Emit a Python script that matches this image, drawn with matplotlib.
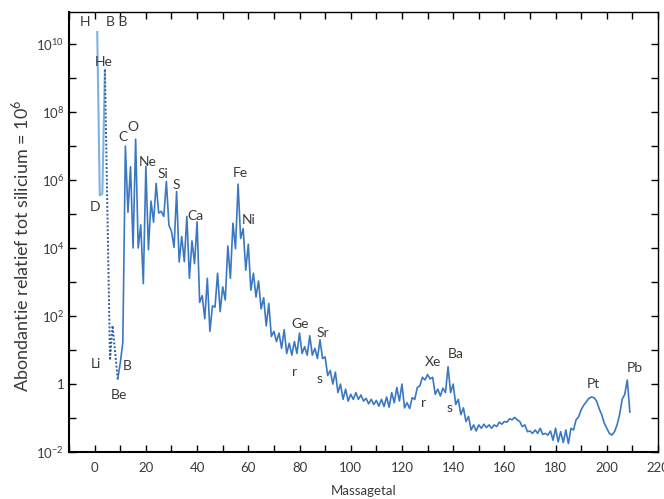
import matplotlib
matplotlib.use("Agg")
import matplotlib.pyplot as plt
from matplotlib.ticker import FixedLocator, NullFormatter
import numpy as np

plt.rcParams['font.family'] = ['Lato', 'DejaVu Sans']
plt.rcParams['mathtext.fontset'] = 'custom'
plt.rcParams['mathtext.rm'] = 'Lato'

# H, D, He-3, He-4 (log10 abundance, Si = 10^6)
light_mass = [1, 2, 3, 4]
light_log = [10.35, 5.55, 5.6, 9.24]

# He-4 -> Li -> Be (dotted in the original)
gap_mass = [4, 6, 7, 9]
gap_log = [9.24, 0.7, 1.72, 0.15]

# Be-9 up to Bi-209
main_mass = list(range(9, 210))
main_log = [
    0.15, 0.62, 1.23, 7.00, 5.05, 6.39, 4.00, 7.20, 4.00, 4.68,      # 9-18
    2.95, 6.40, 3.95, 5.38, 4.76, 5.90, 5.03, 5.08, 4.93, 5.96,      # 19-28
    4.67, 4.49, 4.02, 5.66, 3.59, 4.34, 3.60, 4.93, 3.11, 4.21,      # 29-38
    3.54, 4.77, 2.40, 2.60, 1.92, 3.11, 1.55, 2.30, 2.26, 3.26,      # 39-48
    2.13, 2.86, 2.47, 4.06, 3.11, 4.73, 3.98, 5.88, 4.28, 4.57,      # 49-58
    3.35, 4.11, 2.76, 3.26, 2.56, 3.03, 2.21, 2.54, 1.71, 2.37,      # 59-68
    1.40, 1.55, 1.25, 1.50, 1.05, 1.60, 0.90, 1.20, 0.85, 1.25,      # 69-78
    0.90, 1.50, 0.90, 1.10, 0.85, 1.42, 0.85, 1.05, 0.75, 1.30,      # 79-88
    0.75, 0.80, 0.25, 0.40, 0.00, 0.35, -0.25, 0.00, -0.45, -0.15,   # 89-98
    -0.50, -0.30, -0.45, -0.25, -0.45, -0.32, -0.50, -0.42, -0.58, -0.45,  # 99-108
    -0.60, -0.48, -0.65, -0.45, -0.66, -0.38, -0.68, -0.25, -0.55, -0.10,  # 109-118
    -0.50, 0.00, -0.70, -0.55, -0.72, -0.40, -0.45, -0.10, -0.05, 0.20,    # 119-128
    0.12, 0.28, 0.15, 0.20, -0.30, -0.15, -0.35, -0.12, -0.25, 0.51,       # 129-138
    -0.25, 0.00, -0.60, -0.45, -0.90, -0.70, -1.10, -0.95, -1.35, -1.20,   # 139-148
    -1.38, -1.20, -1.30, -1.18, -1.28, -1.20, -1.30, -1.20, -1.25, -1.12,  # 149-158
    -1.18, -1.10, -1.12, -1.02, -1.05, -0.98, -1.05, -1.10, -1.25, -1.20,  # 159-168
    -1.40, -1.38, -1.45, -1.35, -1.45, -1.30, -1.48, -1.45, -1.50, -1.38,  # 169-178
    -1.65, -1.30, -1.70, -1.40, -1.72, -1.35, -1.75, -1.30, -1.35, -1.05,  # 179-188
    -0.96, -0.75, -0.62, -0.52, -0.42, -0.38, -0.40, -0.50, -0.72, -0.90,  # 189-198
    -1.15, -1.30, -1.45, -1.50, -1.40, -1.20, -0.90, -0.45, -0.30, 0.12,   # 199-208
    -0.82,                                                                   # 209
]

# element labels: (text, mass number, log10 abundance)
labels = [
    ("H", -3.7, 10.65), ("B B", 8.8, 10.65), ("He", 3.5, 9.48),
    ("D", 0.2, 5.2), ("Li", 0.5, 0.59), ("B", 12.7, 0.53), ("Be", 9.4, -0.32),
    ("C", 11.0, 7.26), ("O", 15.1, 7.57), ("Ne", 20.6, 6.54),
    ("Si", 26.7, 6.18), ("S", 32.0, 5.85), ("Ca", 39.3, 4.94),
    ("Fe", 56.7, 6.2), ("Ni", 60.0, 4.82),
    ("Ge", 80.4, 1.78), ("Sr", 89.2, 1.51), ("r", 78.0, 0.36), ("s", 87.7, 0.15),
    ("Xe", 132.0, 0.66), ("Ba", 140.9, 0.88), ("r", 128.4, -0.57), ("s", 138.7, -0.71),
    ("Pt", 194.8, 0.0), ("Pb", 210.8, 0.48),
]

fig = plt.figure(figsize=(6.64, 4.99), dpi=100)
ax = fig.add_axes([0.104, 0.094, 0.887, 0.882])

line_col = '#3b78c2'
ax.plot(light_mass, 10.0 ** np.array(light_log), color='#7fb2e0', lw=1.5)
ax.plot(gap_mass, 10.0 ** np.array(gap_log), color='#2f5f9e', lw=1.4, ls=(0, (1, 1)))
ax.plot(main_mass, 10.0 ** np.array(main_log), color=line_col, lw=1.2)

for txt, m, lg in labels:
    ax.text(m, 10.0 ** lg, txt, ha='center', va='center', fontsize=10, color='#3a3a3a')

ax.set_yscale('log')
ax.set_xlim(-10, 220)
ax.set_ylim(1e-2, 10 ** 10.94)

ax.set_xticks(range(0, 221, 20))
ax.set_xticks(range(-10, 221, 10), minor=True)
ax.set_xticklabels([str(v) for v in range(0, 221, 20)])

ymaj = [10.0 ** k for k in range(-2, 11, 2)]
ax.yaxis.set_major_locator(FixedLocator(ymaj))
ax.yaxis.set_minor_locator(FixedLocator([10.0 ** k for k in range(-1, 11, 2)]))
ax.yaxis.set_minor_formatter(NullFormatter())
ylabs = ['$10^{-2}$', '1', '$10^{2}$', '$10^{4}$', '$10^{6}$', '$10^{8}$', '$10^{10}$']
ax.set_yticklabels(ylabs)

ax.tick_params(which='both', direction='in', top=True, right=True, length=5,
               width=1.0, colors='black', labelcolor='#3a3a3a', labelsize=9.5)
ax.tick_params(axis='x', pad=7)
for side in ['left', 'bottom']:
    ax.spines[side].set_linewidth(1.5)
for side in ['top', 'right']:
    ax.spines[side].set_linewidth(1.0)

ax.set_xlabel('Massagetal', fontsize=9.5, color='#3a3a3a', labelpad=8)
ax.set_ylabel('Abondantie relatief tot silicium = 10$^6$', fontsize=13,
              color='#3a3a3a', labelpad=6)
ax.yaxis.set_label_coords(-0.065, 0.47)

fig.savefig('out.png', dpi=100)
